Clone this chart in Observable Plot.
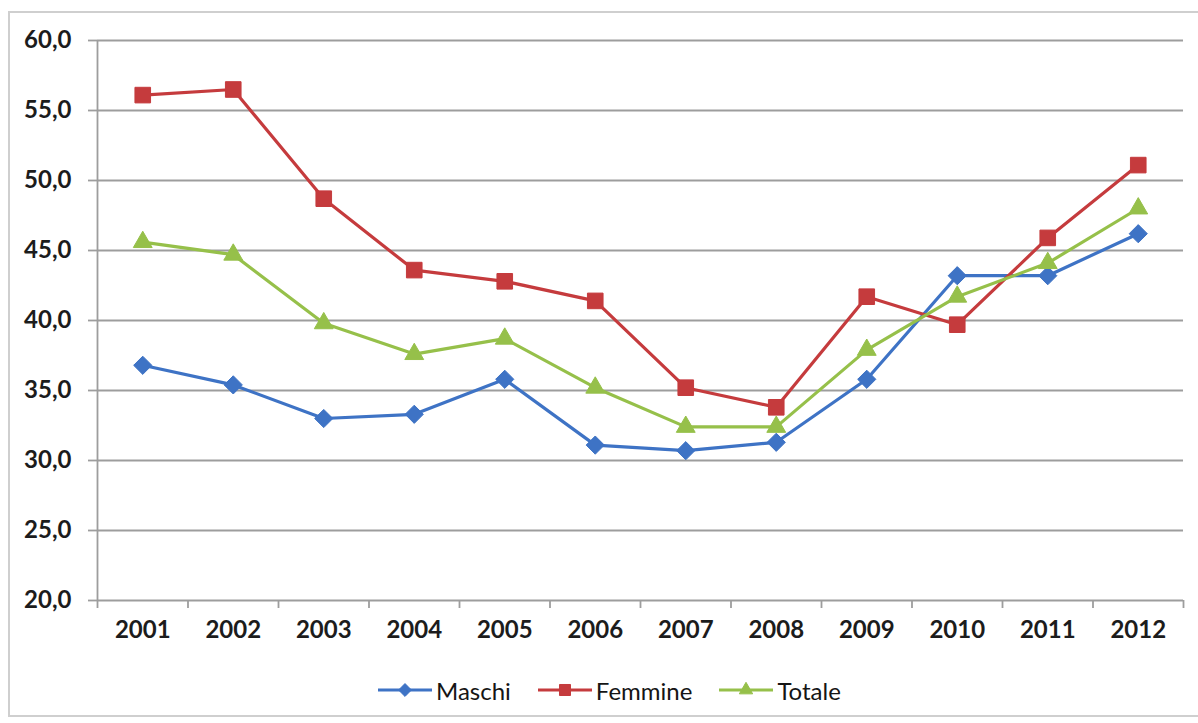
<!DOCTYPE html>
<html>
<head>
<meta charset="utf-8">
<script src="https://cdn.jsdelivr.net/npm/d3@7"></script>
<script src="https://cdn.jsdelivr.net/npm/@observablehq/plot@0.6"></script>
<style>
  html, body { margin: 0; padding: 0; background: #fff; }
  #wrap { position: relative; width: 1198px; height: 723px; overflow: hidden; background: #fff; font-family: Lato, "DejaVu Sans", sans-serif; }
  #frame { position: absolute; left: 8px; top: 11px; width: 1210px; height: 706px; border: 2px solid #cfcfcf; box-sizing: border-box; }
  #chart { position: absolute; left: 0; top: 0; }
  #legend { position: absolute; left: 0; top: 676px; width: 1198px; height: 28px; display: flex; align-items: center; padding-left: 378px; box-sizing: border-box; }
  .item { display: flex; align-items: center; margin-right: 27px; font-size: 24px; color: #151515; }
  .item svg { margin-right: 4px; }
</style>
</head>
<body>
<div id="wrap">
  <div id="frame"></div>
  <div id="chart"></div>
  <div id="legend"></div>
</div>
<script>
// ---- data ----
const years = [2001, 2002, 2003, 2004, 2005, 2006, 2007, 2008, 2009, 2010, 2011, 2012];
const maschi  = [36.8, 35.4, 33.0, 33.3, 35.8, 31.1, 30.7, 31.3, 35.8, 43.2, 43.2, 46.2];
const femmine = [56.1, 56.5, 48.7, 43.6, 42.8, 41.4, 35.2, 33.8, 41.7, 39.7, 45.9, 51.1];
const totale  = [45.6, 44.7, 39.8, 37.6, 38.7, 35.2, 32.4, 32.4, 37.9, 41.7, 44.1, 48.0];
const seriesNames = ["Maschi", "Femmine", "Totale"];
const yTicks = [20, 25, 30, 35, 40, 45, 50, 55, 60];

// ---- styles ----
const colors = ["#3E73C5", "#C53B3D", "#96C04A"];
const symbols = ["diamond2", "square", "triangle"];
const radii = [8.2, 8.8, 7.0];

const seriesValues = [maschi, femmine, totale];
const rows = seriesNames.map((name, s) => years.map((year, i) => ({series: name, year, value: seriesValues[s][i]})));

const xDomain = [years[0] - 0.5, years[years.length - 1] + 0.5];
const boundaries = [...years.map(y => y - 0.5), years[years.length - 1] + 0.5];

const marks = [
  Plot.ruleY(yTicks, {stroke: "#9d9d9d", strokeWidth: 1.8}),
  Plot.ruleX([xDomain[0]], {stroke: "#9d9d9d", strokeWidth: 1.8}),
  Plot.text(years, {x: d => d, frameAnchor: "bottom", dy: 37, text: d => String(d),
    fontSize: 24, fontWeight: "bold", fill: "#1c1c1c"})
];
rows.forEach((data, s) => {
  marks.push(Plot.line(data, {x: "year", y: "value", stroke: colors[s], strokeWidth: 3.2}));
  marks.push(Plot.dot(data, {x: "year", y: "value", symbol: () => symbols[s], r: radii[s],
    fill: colors[s], stroke: colors[s], strokeWidth: 1}));
});

const chart = Plot.plot({
  width: 1198,
  height: 660,
  marginTop: 40,
  marginBottom: 60,
  marginLeft: 97,
  marginRight: 15,
  style: {background: "transparent", color: "#9d9d9d", fontFamily: "Lato, 'DejaVu Sans', sans-serif", fontSize: "24px", fontWeight: "bold", overflow: "visible"},
  x: {type: "linear", domain: xDomain, ticks: boundaries, tickSize: 8, tickFormat: () => "", label: null},
  y: {domain: [20, 60], ticks: yTicks, tickSize: 9, tickPadding: 17,
      tickFormat: d => d.toFixed(1).replace(".", ","), label: null},
  symbol: {type: "identity"},
  marks
});
d3.select(chart).selectAll('[aria-label^="y-axis"] text').attr("fill", "#1c1c1c");
d3.select(chart).selectAll('[aria-label^="y-axis"] line, [aria-label^="x-axis"] line, [aria-label^="y-axis"] path, [aria-label^="x-axis"] path').attr("stroke-width", 1.8);
document.getElementById("chart").appendChild(chart);

// ---- legend ----
const legend = document.getElementById("legend");
seriesNames.forEach((name, s) => {
  const item = document.createElement("div");
  item.className = "item";
  const sym = d3.symbol(
    {diamond2: d3.symbolDiamond2, square: d3.symbolSquare, triangle: d3.symbolTriangle}[symbols[s]],
    Math.PI * radii[s] * radii[s] * 0.5)();
  item.innerHTML = `<svg width="54" height="24" viewBox="0 0 54 24">
      <line x1="0" x2="54" y1="12" y2="12" stroke="${colors[s]}" stroke-width="3.2"/>
      <path transform="translate(27,12)" d="${sym}" fill="${colors[s]}" stroke="${colors[s]}"/>
    </svg><span>${name}</span>`;
  legend.appendChild(item);
});
</script>
</body>
</html>
